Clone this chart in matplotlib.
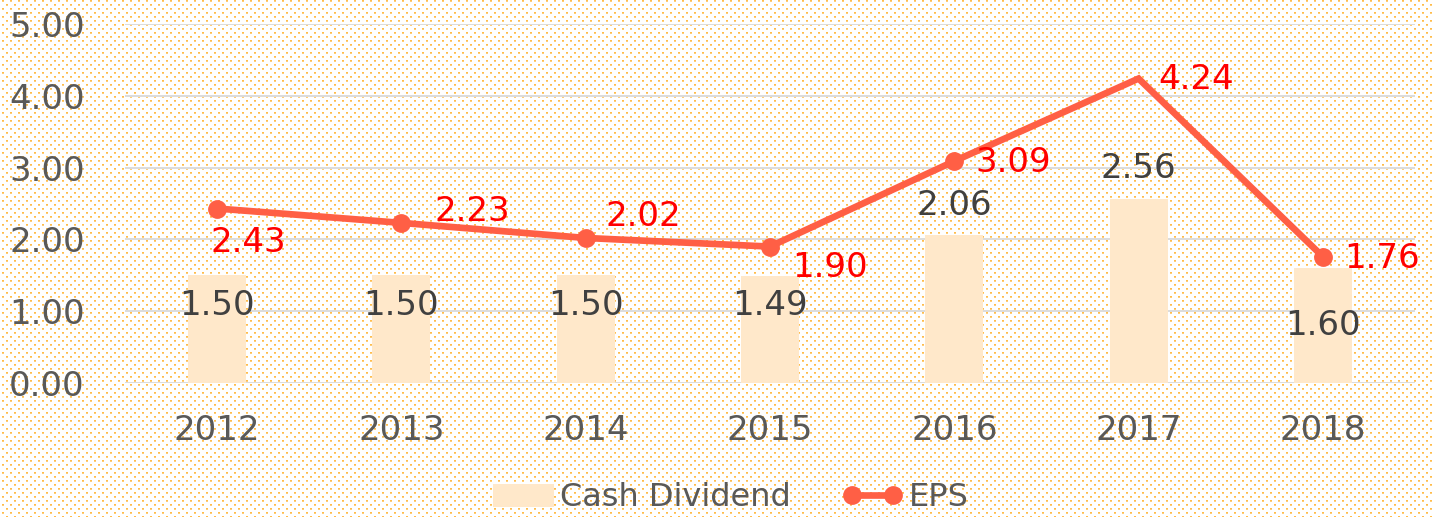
import numpy as np
import matplotlib
matplotlib.use("Agg")
import matplotlib.pyplot as plt
from matplotlib.patches import Patch
from matplotlib.lines import Line2D

years = ["2012", "2013", "2014", "2015", "2016", "2017", "2018"]
cash_dividend = [1.50, 1.50, 1.50, 1.49, 2.06, 2.56, 1.60]
eps = [2.43, 2.23, 2.02, 1.90, 3.09, 4.24, 1.76]
y_ticks = [0, 1, 2, 3, 4, 5]

W, H = 1433, 517
DPI = 100
FS = 24.5
plt.rcParams['font.family'] = ['DejaVu Sans']

fig = plt.figure(figsize=(W / DPI, H / DPI), dpi=DPI)
fig.patch.set_facecolor("white")

# dotted background texture
bg = np.ones((H, W, 3))
dot = np.array([255, 188, 75]) / 255.0
dot2 = np.array([255, 205, 120]) / 255.0
for r in range(0, H, 4):
    off = 0 if (r // 4) % 2 == 0 else 4
    for c in range(off + 2, W, 8):
        bg[r:r + 1, c:c + 2] = dot
        if r + 1 < H:
            bg[r + 1:r + 2, c:c + 2] = dot2
fig.figimage(bg, xo=0, yo=0, zorder=-10, origin="upper")

ax = fig.add_axes([125 / W, 134 / H, 1290 / W, (383 - 24) / H])
ax.patch.set_alpha(0)
x = np.arange(len(years))

ax.bar(x, cash_dividend, width=0.315, color="#FFE8CA", zorder=2)
line_color = "#FF5F45"
ax.plot(x, eps, color=line_color, lw=4.8, marker="o", markersize=12.5,
        markevery=[0, 1, 2, 3, 4, 6], zorder=3, solid_capstyle="round",
        solid_joinstyle="miter")

ax.set_xlim(-0.5, len(years) - 0.5)
ax.set_ylim(0, 5)
ax.set_yticks(y_ticks)
ax.set_yticklabels([f"{v:.2f}" for v in y_ticks])
ax.set_xticks(x)
ax.set_xticklabels(years)
for s in ax.spines.values():
    s.set_visible(False)
ax.tick_params(axis="both", length=0, labelsize=FS, colors="#595959")
ax.tick_params(axis="y", pad=29)
ax.tick_params(axis="x", pad=22)
ax.yaxis.grid(True, color="#DCDCDC", lw=1.4, zorder=1)
ax.set_axisbelow(True)

# bar labels
bar_offsets = [-30, -30, -30, -29, 30, 31, -57]
for xi, v, oy in zip(x, cash_dividend, bar_offsets):
    ax.annotate(f"{v:.2f}", (xi, v), xytext=(0, oy), textcoords="offset pixels",
                ha="center", va="center", fontsize=FS, color="#404040", zorder=4)

# EPS labels
eps_offsets = [(31, -34), (71, 11), (58, 21), (60, -21), (59, -1), (58, -1), (59, -2)]
for xi, v, (ox, oy) in zip(x, eps, eps_offsets):
    ax.annotate(f"{v:.2f}", (xi, v), xytext=(ox, oy), textcoords="offset pixels",
                ha="center", va="center", fontsize=FS, color="#FF0000", zorder=5)

handles = [Patch(facecolor="#FFE8CA", edgecolor="none"),
           Line2D([0], [0], color=line_color, lw=4.8, marker="o", markersize=12.5)]
fig.legend(handles, ["Cash Dividend", "EPS"], loc="center",
           bbox_to_anchor=(731 / W, (H - 498) / H), ncol=2, frameon=False,
           fontsize=23, labelcolor="#595959", numpoints=2, handlelength=1.9,
           handletextpad=0.2, columnspacing=1.6, borderpad=0.2)

fig.savefig("out.png", dpi=DPI)
